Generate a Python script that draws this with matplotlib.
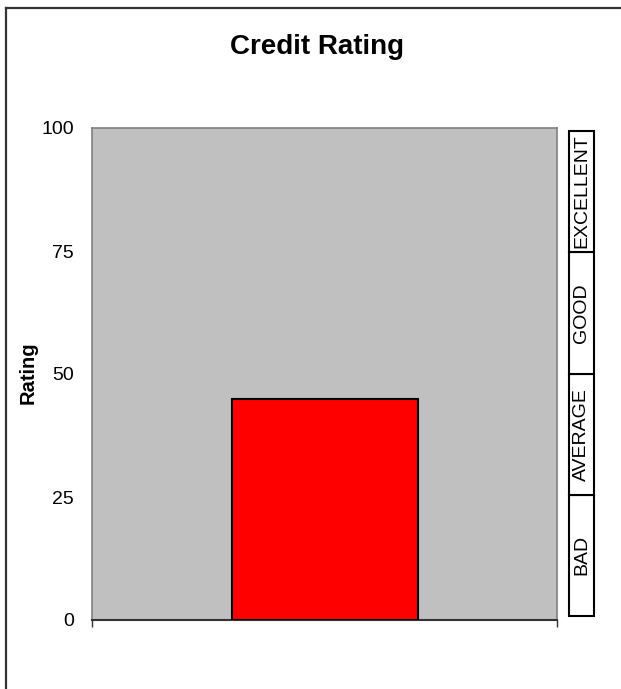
import matplotlib
matplotlib.use("Agg")
import matplotlib.pyplot as plt
from matplotlib.patches import Rectangle
from matplotlib.lines import Line2D

plt.rcParams['font.family'] = ['Liberation Sans', 'DejaVu Sans']

# Data
categories = ["Credit"]
values = [45]
band_labels = ["BAD", "AVERAGE", "GOOD", "EXCELLENT"]
band_edges = [0, 25, 50, 75, 100]
y_ticks = [0, 25, 50, 75, 100]

W, H = 621, 689
fig = plt.figure(figsize=(W / 100, H / 100), dpi=100)
fig.patch.set_facecolor("white")

# outer frame (left and top lines visible)
fig.add_artist(Line2D([6 / W, 6 / W], [0, 1 - 8 / H], transform=fig.transFigure,
                      color="#333333", lw=1.6))
fig.add_artist(Line2D([6 / W, 1], [1 - 8 / H, 1 - 8 / H], transform=fig.transFigure,
                      color="#333333", lw=1.6))

ax = fig.add_axes([92 / W, (H - 620) / H, (557 - 92) / W, (620 - 128) / H])
ax.set_facecolor("#C0C0C0")
ax.bar(range(len(categories)), values, width=0.4, color="#FF0000",
       edgecolor="black", linewidth=1.5, zorder=3)
ax.set_xlim(-0.5, len(categories) - 0.5)
ax.set_ylim(0, 100)
ax.set_yticks(y_ticks)
ax.set_yticklabels([str(v) for v in y_ticks], fontsize=14)
ax.tick_params(axis="y", length=0, pad=13)
ax.set_xticks([-0.5, len(categories) - 0.5])
ax.set_xticklabels([])
ax.tick_params(axis="x", length=5, width=1, color="#333333", direction="out")
for s in ["left", "top", "right"]:
    ax.spines[s].set_color("#808080")
    ax.spines[s].set_linewidth(1.2)
ax.spines["bottom"].set_color("#333333")
ax.spines["bottom"].set_linewidth(1.5)

fig.text(317 / W, 1 - 47 / H, "Credit Rating", ha="center", va="center",
         fontsize=20, fontweight="bold")
fig.text(28 / W, 1 - 373 / H, "Rating", ha="center", va="center",
         rotation=90, fontsize=14.5, fontweight="bold")

# band boxes on the right
bx = fig.add_axes([569 / W, (H - 616) / H, (594 - 569) / W, (616 - 131) / H])
bx.set_xlim(0, 1)
bx.set_ylim(band_edges[0], band_edges[-1])
bx.axis("off")
for i, lab in enumerate(band_labels):
    lo, hi = band_edges[i], band_edges[i + 1]
    bx.add_patch(Rectangle((0, lo), 1, hi - lo, facecolor="white",
                           edgecolor="black", linewidth=1.5, clip_on=False))
    bx.text(0.5, (lo + hi) / 2, lab, ha="center", va="center", rotation=90,
            fontsize=14)

fig.savefig("out.png", dpi=100)
